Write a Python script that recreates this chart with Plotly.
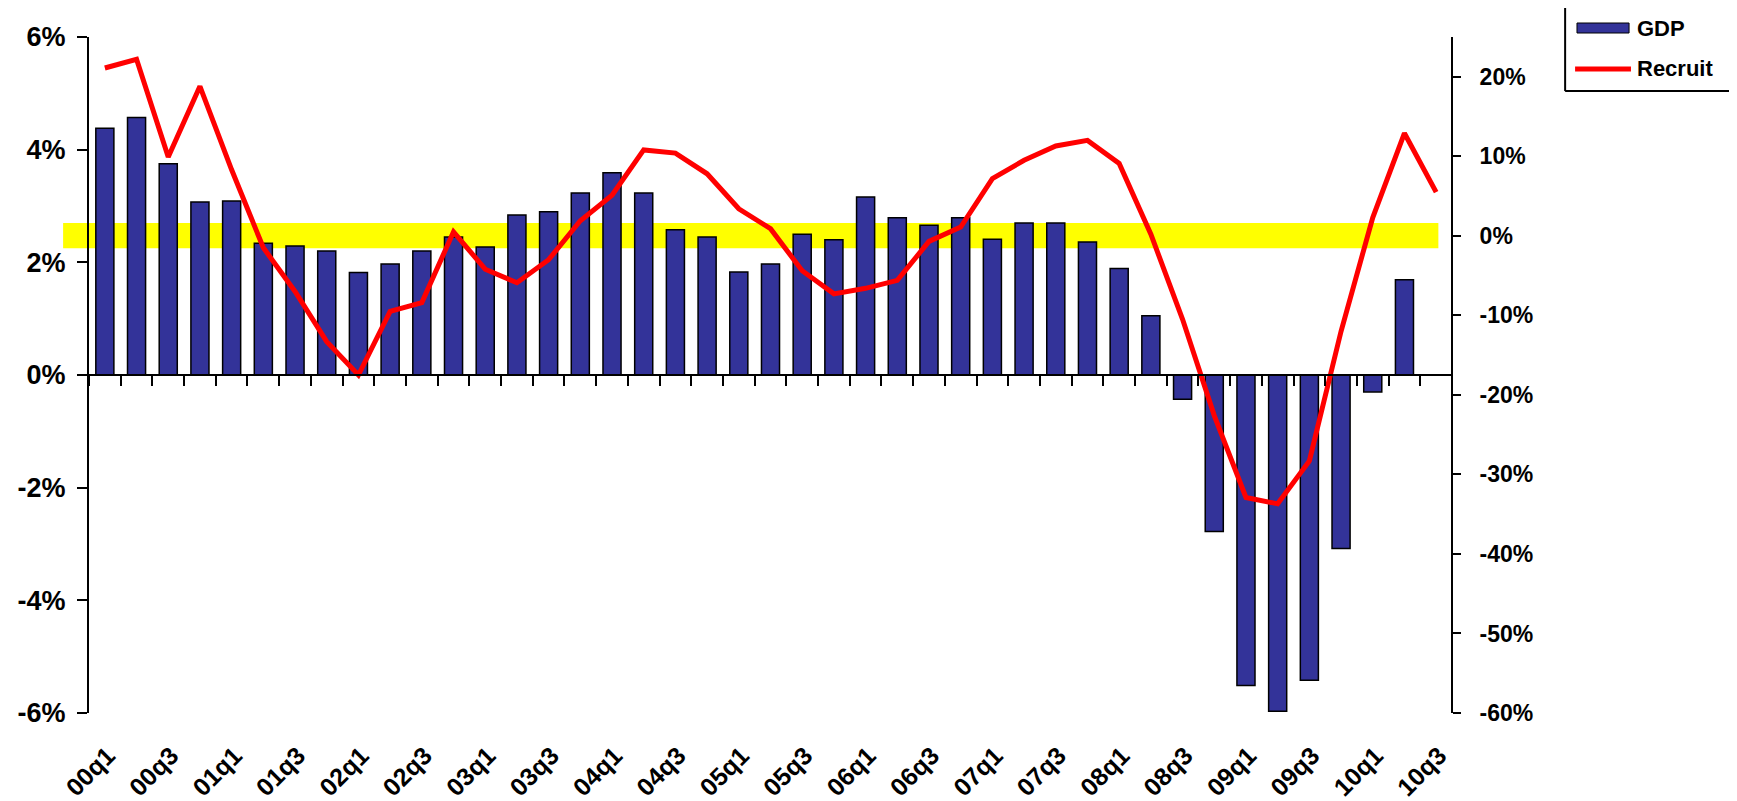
import plotly.graph_objects as go

# quarters 00q1 .. 10q3
quarters = [f"{y:02d}q{q}" for y in range(0, 11) for q in range(1, 5)][:43]

gdp = [4.38, 4.57, 3.75, 3.07, 3.09, 2.34, 2.29, 2.20, 1.82, 1.97, 2.20,
       2.45, 2.27, 2.84, 2.90, 3.23, 3.59, 3.23, 2.58, 2.45, 1.83, 1.97,
       2.50, 2.40, 3.16, 2.79, 2.66, 2.79, 2.41, 2.70, 2.70, 2.36, 1.89,
       1.05, -0.43, -2.78, -5.51, -5.97, -5.42, -3.08, -0.30, 1.69, None]

recruit = [21.1, 22.2, 9.9, 18.8, 8.3, -1.5, -7.0, -13.3, -17.5, -9.5, -8.4,
           0.5, -4.2, -5.9, -3.0, 1.9, 5.1, 10.8, 10.4, 7.8, 3.4, 0.9,
           -4.4, -7.3, -6.6, -5.6, -0.7, 1.1, 7.2, 9.5, 11.3, 12.0, 9.1,
           0.2, -10.5, -22.6, -32.9, -33.7, -28.3, -12.0, 2.3, 12.9, 5.5]

trend_band = [2.25, 2.7]  # yellow band on the GDP axis

left_ticks = [-6, -4, -2, 0, 2, 4, 6]
right_ticks = [-60, -50, -40, -30, -20, -10, 0, 10, 20]
left_labels = [f"{v}%" for v in left_ticks]
right_labels = [f"{v}%" for v in right_ticks]

FONT = "Liberation Sans, Arial, sans-serif"

fig = go.Figure()

fig.add_trace(go.Bar(
    x=quarters, y=gdp, name="GDP",
    marker=dict(color="#333399", line=dict(color="#000000", width=1.5)),
    xaxis="x", yaxis="y",
))

fig.add_trace(go.Scatter(
    x=quarters, y=recruit, name="Recruit", mode="lines",
    line=dict(color="#FF0000", width=5),
    xaxis="x2", yaxis="y2",
))

# page body keeps its default 8px margin, so the figure is sized to fit
fig.update_layout(
    width=1729, height=793,
    paper_bgcolor="white", plot_bgcolor="white",
    font=dict(family=FONT, color="black"),
    margin=dict(l=81, r=285, t=29, b=88, autoexpand=False),
    showlegend=False,
    bargap=0.43,
    xaxis=dict(
        type="category", categoryarray=quarters, range=[-0.5, 42.5],
        tickmode="array", tickvals=quarters[::2],
        tickangle=-45, showline=False, ticks="", showgrid=False,
        tickfont=dict(size=25, weight="bold", family=FONT),
        ticklabelshift=3, ticklabelstandoff=22,
        anchor="y", automargin=False,
    ),
    xaxis2=dict(
        type="category", matches="x", overlaying="x",
        anchor="free", position=0.5,
        showline=True, linecolor="black", linewidth=2,
        ticks="outside", ticklen=10, tickwidth=2, tickcolor="black",
        tickson="boundaries", tickmode="linear", tick0=0, dtick=1,
        showticklabels=False, showgrid=False, automargin=False,
    ),
    yaxis=dict(
        range=[-6, 6], tickvals=left_ticks, ticktext=left_labels,
        showline=True, linecolor="black", linewidth=2,
        ticks="outside", ticklen=10, tickwidth=2, tickcolor="black",
        showgrid=False, zeroline=False, automargin=False,
        tickfont=dict(size=27, weight="bold", family=FONT),
        ticklabelstandoff=6,
    ),
    yaxis2=dict(
        range=[-60, 25], tickvals=right_ticks, ticktext=right_labels,
        overlaying="y", side="right", anchor="free", position=1,
        showline=True, linecolor="black", linewidth=2,
        ticks="outside", ticklen=8, tickwidth=2, tickcolor="black",
        showgrid=False, zeroline=False, automargin=False,
        tickfont=dict(size=23, weight="bold", family=FONT),
        ticklabelstandoff=14,
    ),
    yaxis3=dict(
        range=[-60, 25], tickvals=right_ticks,
        overlaying="y", side="right", anchor="free", position=1,
        showline=False, ticks="inside", ticklen=8, tickwidth=2,
        tickcolor="black", showticklabels=False,
        showgrid=False, zeroline=False, automargin=False,
    ),
)

# yellow band behind the bars
fig.add_shape(type="rect", xref="paper", yref="y",
              x0=-0.019, x1=0.99, y0=trend_band[0], y1=trend_band[1],
              fillcolor="#FFFF00", line=dict(width=0), layer="below")

# hand drawn legend box (top edge runs off the page)
for x0, y0, x1, y1 in [(1.083, 1.07, 1.083, 0.920),
                       (1.2055, 1.07, 1.2055, 0.920),
                       (1.083, 0.920, 1.2055, 0.920)]:
    fig.add_shape(type="line", xref="paper", yref="paper",
                  x0=x0, y0=y0, x1=x1, y1=y1,
                  line=dict(color="black", width=2))
fig.add_shape(type="rect", xref="paper", yref="paper",
              x0=1.0917, x1=1.1299, y0=1.0059, y1=1.0207,
              fillcolor="#333399", line=dict(color="black", width=1))
fig.add_shape(type="line", xref="paper", yref="paper",
              x0=1.0903, x1=1.1313, y0=0.9527, y1=0.9527,
              line=dict(color="#FF0000", width=5))
for text, yy in [("GDP", 1.0133), ("Recruit", 0.9527)]:
    fig.add_annotation(text=text, xref="paper", yref="paper",
                       x=1.1345, y=yy, xanchor="left", yanchor="middle",
                       showarrow=False,
                       font=dict(size=22, weight="bold", family=FONT))

fig.write_html("out.html")
